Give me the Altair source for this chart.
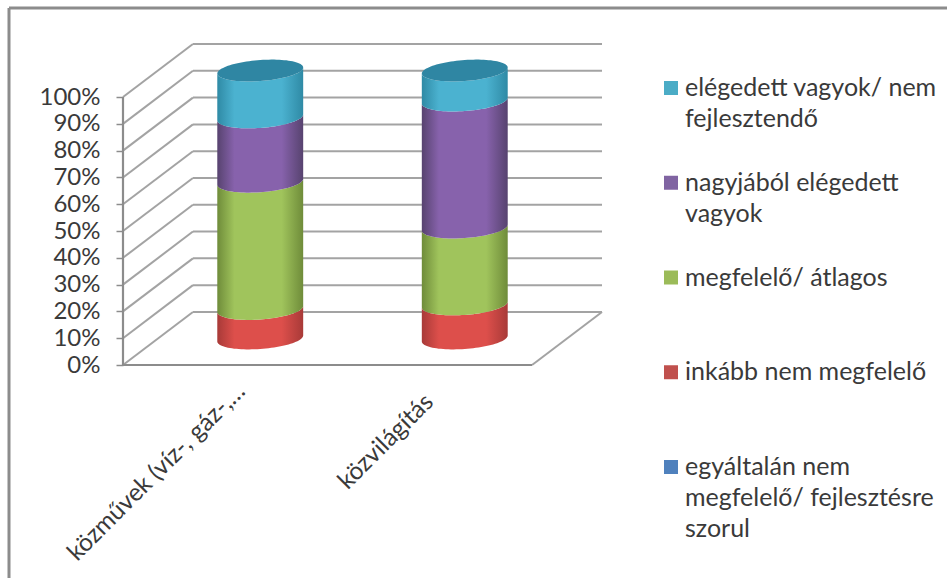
import math

import altair as alt
import pandas as pd

# Survey answers, bottom of the stack first
categories = ["közművek (víz-, gáz-,…", "közvilágítás"]
series = [
    "egyáltalán nem|megfelelő/ fejlesztésre|szorul",
    "inkább nem megfelelő",
    "megfelelő/ átlagos",
    "nagyjából elégedett|vagyok",
    "elégedett vagyok/ nem|fejlesztendő",
]
utilities = [0, 11, 47.5, 24, 17.5]
street_lighting = [0, 12.7, 28.7, 47.4, 11.2]
legend_colors = ["#4f81bd", "#c0504d", "#9bbb59", "#8064a2", "#4bacc6"]
edge_colors = ["#3a6496", "#a83a38", "#6f8c3a", "#57436f", "#2f8aa5"]
mid_colors = ["#4f81bd", "#dd4f4b", "#a0c45c", "#8762ac", "#4bb2d0"]
cap_color = "#2f86a3"
percent_ticks = list(range(0, 101, 10))

# Oblique projection of the 3-D box: depth expressed in axis units
DEPTH_X = 0.342
DEPTH_Y = 19.8
X_MAX = 2 + DEPTH_X
Y_MAX = 100 + DEPTH_Y
PLOT_W, PLOT_H = 479, 321
PX_PER_PCT = 2.68

# Cylinder cross-section
RADIUS_X = 0.21
RADIUS_Y = 10.5 / PX_PER_PCT
TILT = 3.0 / PX_PER_PCT
AXIS_GREY = "#8c8c8c"
GRID_GREY = "#a3a3a3"
TEXT = "#3a3a3a"
FONT = "Lato"

x_scale = alt.Scale(domain=[0, X_MAX], range=[0, PLOT_W], nice=False, zero=False)
y_scale = alt.Scale(domain=[0, Y_MAX], range=[PLOT_H, 0], nice=False, zero=False)


def X(field="x"):
    return alt.X(f"{field}:Q", scale=x_scale, axis=None)


def Y(field="y"):
    return alt.Y(f"{field}:Q", scale=y_scale, axis=None)


# Back wall and side wall gridlines, plus the floor's right edge
wall = pd.DataFrame(
    [{"x": DEPTH_X, "x2": X_MAX, "y": v + DEPTH_Y, "y2": v + DEPTH_Y} for v in percent_ticks]
    + [{"x": 0, "x2": DEPTH_X, "y": v, "y2": v + DEPTH_Y} for v in percent_ticks]
    + [{"x": 2, "x2": X_MAX, "y": 0, "y2": DEPTH_Y}]
)
grid_layer = alt.Chart(wall).mark_rule(color=GRID_GREY, strokeWidth=2).encode(
    x=alt.X(
        "x:Q",
        scale=x_scale,
        title=None,
        axis=alt.Axis(
            values=[0, 1, 2], labels=False, domain=False, grid=False,
            tickSize=7, tickColor=AXIS_GREY, tickWidth=1.5,
        ),
    ),
    x2="x2:Q",
    y=alt.Y(
        "y:Q",
        scale=y_scale,
        title=None,
        axis=alt.Axis(
            values=percent_ticks, labelExpr="datum.value + '%'", domain=False, grid=False,
            tickSize=7, tickColor=AXIS_GREY, tickWidth=1.5, labelPadding=16,
            labelFont=FONT, labelFontSize=24, labelColor=TEXT,
        ),
    ),
    y2="y2:Q",
)

# The two axis lines stop at 100 % and at the end of the floor
axes = pd.DataFrame([
    {"x": 0, "x2": 0, "y": 0, "y2": 100},
    {"x": 0, "x2": 2, "y": 0, "y2": 0},
])
axis_layer = alt.Chart(axes).mark_rule(color=AXIS_GREY, strokeWidth=2.2).encode(
    x=X(), x2="x2:Q", y=Y(), y2="y2:Q"
)

# Sweep across the cylinder's diameter
SWEEP = [math.cos(math.pi * i / 48) for i in range(48, -1, -1)]


def front(t):
    return -RADIUS_Y * math.sqrt(max(0.0, 1 - t * t)) + TILT * t


def back(t):
    return RADIUS_Y * math.sqrt(max(0.0, 1 - t * t)) + TILT * t


cylinder_layers = []
columns = [utilities, street_lighting]
for s, name in enumerate(series):
    rows = []
    for c, values in enumerate(columns):
        if values[s] <= 0:
            continue
        lower = sum(values[:s])
        upper = lower + values[s]
        cx = c + 0.5 + DEPTH_X / 2
        for t in SWEEP:
            rows.append({
                "cat": categories[c],
                "x": cx + RADIUS_X * t,
                "y": DEPTH_Y / 2 + upper + front(t),
                "y2": DEPTH_Y / 2 + lower + front(t),
            })
    if not rows:
        continue
    cylinder_layers.append(
        alt.Chart(pd.DataFrame(rows)).mark_area(
            orient="vertical",
            color=alt.Gradient(
                gradient="linear", x1=0, x2=1, y1=0, y2=0,
                stops=[
                    alt.GradientStop(color=edge_colors[s], offset=0),
                    alt.GradientStop(color=mid_colors[s], offset=0.2),
                    alt.GradientStop(color=mid_colors[s], offset=0.75),
                    alt.GradientStop(color=edge_colors[s], offset=1),
                ],
            ),
        ).encode(x=X(), y=alt.Y("y:Q", scale=y_scale, axis=None, stack=None), y2="y2:Q", detail="cat:N")
    )

# Flat top of each cylinder
cap_rows = []
for c, values in enumerate(columns):
    cx = c + 0.5 + DEPTH_X / 2
    top = sum(values)
    for t in SWEEP:
        cap_rows.append({
            "cat": categories[c],
            "x": cx + RADIUS_X * t,
            "y": DEPTH_Y / 2 + top + back(t),
            "y2": DEPTH_Y / 2 + top + front(t),
        })
cap_layer = alt.Chart(pd.DataFrame(cap_rows)).mark_area(orient="vertical", color=cap_color).encode(
    x=X(), y=alt.Y("y:Q", scale=y_scale, axis=None, stack=None), y2="y2:Q", detail="cat:N"
)

# Slanted category labels, right-aligned just under the floor
label_table = pd.DataFrame({
    "label": categories,
    "x": [0.5 + 0.08, 1.5 + 0.0],
    "y": [-8.5, -12.5],
})
label_layer = alt.Chart(label_table).mark_text(
    angle=315, align="right", baseline="middle", font=FONT, fontSize=24.5, color=TEXT
).encode(x=X(), y=Y(), text="label:N")

# Hand-placed legend: equal row spacing, first line of each label beside its swatch
legend_order = list(reversed(series))
legend_table = pd.DataFrame({"name": series})
legend_y = alt.Y(
    "name:N",
    sort=legend_order,
    scale=alt.Scale(type="point", domain=legend_order, range=[44, 423], padding=0),
    axis=None,
)
swatches = alt.Chart(legend_table).mark_square(size=196, opacity=1, filled=True).encode(
    x=alt.value(548),
    y=legend_y,
    color=alt.Color("name:N", scale=alt.Scale(domain=series, range=legend_colors), legend=None),
)
legend_text = alt.Chart(legend_table).mark_text(
    align="left", baseline="alphabetic", dy=8, lineBreak="|", lineHeight=31,
    font=FONT, fontSize=25, color=TEXT,
).encode(x=alt.value(562), y=legend_y, text="name:N")

# Chart frame: only the top and left edges show
frame_top = alt.Chart(pd.DataFrame({"a": [0]})).mark_rule(color=AXIS_GREY, strokeWidth=3).encode(
    x=alt.value(-114), x2=alt.value(824), y=alt.value(-36)
)
frame_left = alt.Chart(pd.DataFrame({"a": [0]})).mark_rule(color=AXIS_GREY, strokeWidth=3).encode(
    x=alt.value(-114), y=alt.value(-36), y2=alt.value(534)
)

chart = (
    alt.layer(
        frame_top, frame_left, grid_layer, axis_layer, *cylinder_layers, cap_layer,
        label_layer, swatches, legend_text,
    )
    .resolve_scale(y="independent", color="independent")
    .properties(
        width=PLOT_W,
        height=PLOT_H,
        padding={"left": 123, "top": 44, "right": 345, "bottom": 213},
        autosize=alt.AutoSizeParams(type="none"),
        background="white",
    )
    .configure_view(stroke=None)
)

chart.save("out.html", embed_options={"renderer": "svg", "actions": False})
